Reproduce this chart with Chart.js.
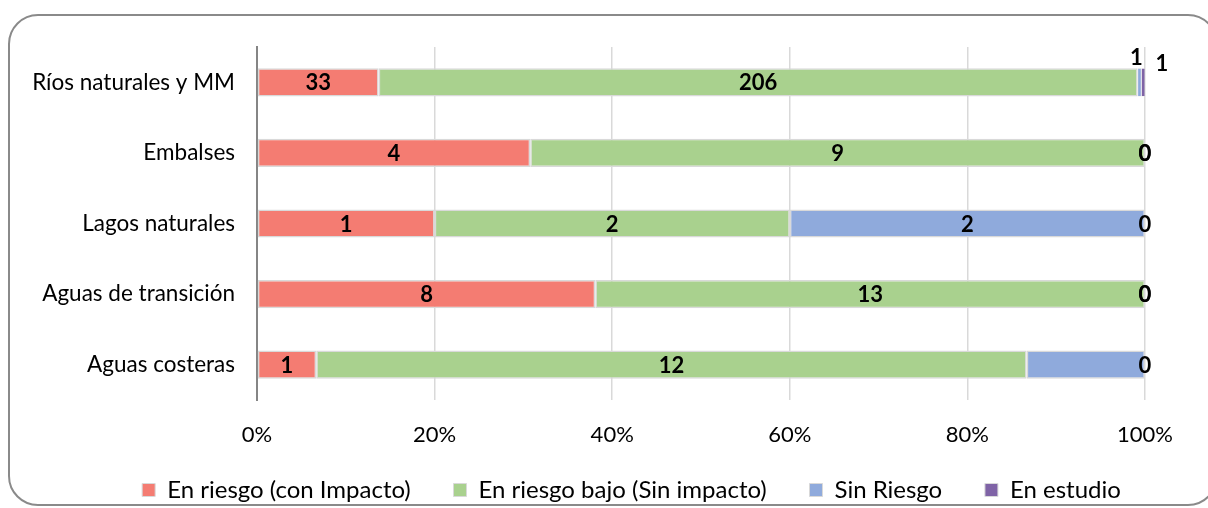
<!DOCTYPE html>
<html>
<head>
<meta charset="utf-8">
<script src="https://cdn.jsdelivr.net/npm/chart.js@4.4.1/dist/chart.umd.min.js"></script>
<style>
  html, body { margin: 0; padding: 0; background: #fff; overflow: hidden; }
  #frame { position: absolute; left: 8px; top: 14px; width: 1210px; height: 492px;
           border: 2px solid #8a8a8a; border-radius: 30px; box-sizing: border-box; }
  #wrap { position: absolute; left: 0; top: 0; width: 1208px; height: 508px; }
</style>
</head>
<body>
<div id="frame"></div>
<div id="wrap"><canvas id="c" width="1208" height="508"></canvas></div>
<script>
const categories = ['Ríos naturales y MM', 'Embalses', 'Lagos naturales', 'Aguas de transición', 'Aguas costeras'];
const seriesNames = ['En riesgo (con Impacto)', 'En riesgo bajo (Sin impacto)', 'Sin Riesgo', 'En estudio'];
const enRiesgoConImpacto = [33, 4, 1, 8, 1];
const enRiesgoBajo = [206, 9, 2, 13, 12];
const sinRiesgo = [1, 0, 2, 0, 2];
const enEstudio = [1, 0, 0, 0, 0];
const xTickLabels = ['0%', '20%', '40%', '60%', '80%', '100%'];

const raw = [enRiesgoConImpacto, enRiesgoBajo, sinRiesgo, enEstudio];
const colors = ['#F47C72', '#A9D18E', '#8FAADC', '#7F63A6'];
const totals = categories.map((_, i) => raw.reduce((s, arr) => s + arr[i], 0));

const FONT = 'Lato, "Open Sans", sans-serif';

const datasets = raw.map((arr, k) => ({
  label: seriesNames[k],
  data: arr.map((v, i) => v / totals[i] * 100),
  rawValues: arr,
  backgroundColor: colors[k],
  borderColor: '#D9D9D9',
  borderWidth: (c) => (c.raw !== undefined && c.raw < 1.5) ? 0.5 : 1.5,
  borderSkipped: false,
  barPercentage: 0.4,
  categoryPercentage: 1.0
}));

const labelPlugin = {
  id: 'segLabels',
  afterDatasetsDraw(chart) {
    const ctx = chart.ctx;
    ctx.save();
    // category labels (drawn at the y scale's positions)
    const ys = chart.scales.y;
    ctx.font = '22.5px ' + FONT;
    ctx.fillStyle = '#000';
    ctx.textAlign = 'right';
    ctx.textBaseline = 'middle';
    chart.data.labels.forEach((lab, i) => {
      ctx.fillText(lab, ys.right - 22, ys.getPixelForValue(i));
    });
    // segment value labels
    ctx.font = 'bold 22px ' + FONT;
    ctx.textAlign = 'center';
    chart.data.datasets.forEach((ds, k) => {
      const meta = chart.getDatasetMeta(k);
      meta.data.forEach((el, i) => {
        // Label of "Sin Riesgo" for Aguas costeras is not shown in the original
        if (k === 2 && i === 4) return;
        let x = (el.x + el.base) / 2;
        let y = el.y;
        if (i === 0 && k === 2) { x = el.x - 5; y = el.y - 25; }
        if (i === 0 && k === 3) { x = el.x + 17; y = el.y - 19; }
        ctx.fillText(String(ds.rawValues[i]), x, y + 1);
      });
    });
    ctx.restore();
  }
};

const GAP = '\u00A0\u00A0\u00A0\u00A0\u00A0';

new Chart(document.getElementById('c'), {
  type: 'bar',
  data: { labels: categories, datasets },
  options: {
    indexAxis: 'y',
    responsive: false,
    animation: false,
    layout: { padding: { left: 118, right: 63, top: 47, bottom: 0 } },
    plugins: {
      legend: {
        position: 'bottom',
        maxHeight: 42,
        labels: {
          font: { family: FONT, size: 24 },
          color: '#000',
          boxWidth: 13,
          boxHeight: 13,
          padding: 12,
          generateLabels(chart) {
            const items = Chart.defaults.plugins.legend.labels.generateLabels(chart);
            items.forEach((it, idx) => {
              it.lineWidth = 1;
              if (idx < items.length - 1) it.text = it.text + GAP;
            });
            return items;
          }
        }
      },
      tooltip: { enabled: false }
    },
    scales: {
      x: {
        stacked: true,
        min: 0, max: 100,
        afterFit(s) { s.height = 66; },
        afterBuildTicks(s) { s.ticks = xTickLabels.map((_, i) => ({ value: i * 20 })); },
        ticks: {
          callback: (v, i) => xTickLabels[i],
          font: { family: FONT, size: 22 },
          color: '#000',
          padding: 22,
          maxRotation: 0
        },
        grid: { color: '#D9D9D9', lineWidth: 1.5, drawTicks: false },
        border: { display: false }
      },
      y: {
        stacked: true,
        afterFit(s) { s.width = 139; },
        ticks: { display: false },
        grid: { display: false, drawTicks: false },
        border: { display: true, color: '#858585', width: 2 }
      }
    }
  },
  plugins: [labelPlugin]
});
</script>
</body>
</html>
